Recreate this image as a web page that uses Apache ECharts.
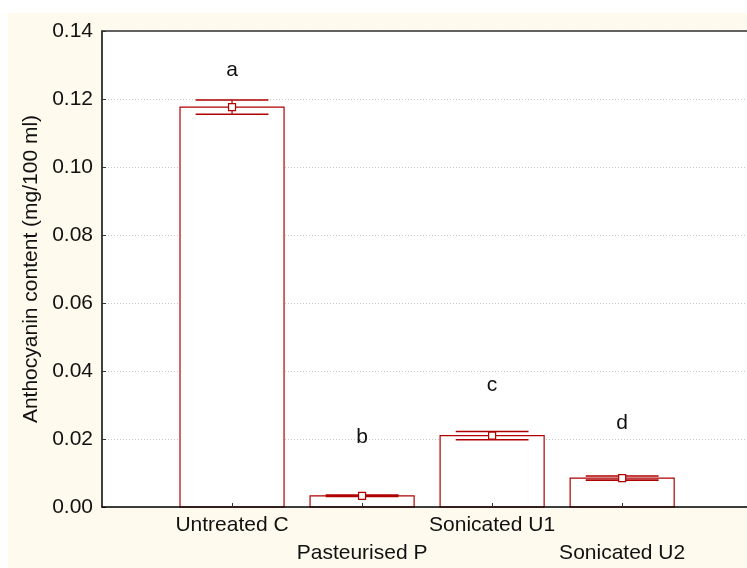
<!DOCTYPE html>
<html>
<head>
<meta charset="utf-8">
<script src="https://cdn.jsdelivr.net/npm/echarts@6/dist/echarts.min.js"></script>
<style>html,body{margin:0;padding:0;background:#fff}#c{width:747px;height:568px}</style>
</head>
<body>
<div id="c"></div>
<script>
const categories = ['Untreated C', 'Pasteurised P', 'Sonicated U1', 'Sonicated U2'];
const means = [0.1176, 0.0033, 0.0210, 0.0085];
const errors = [0.0021, 0.0002, 0.0012, 0.0006];
const letters = ['a', 'b', 'c', 'd'];
const letterY = [0.1286, 0.0206, 0.0359, 0.0247];
const yTicks = [0, 0.02, 0.04, 0.06, 0.08, 0.10, 0.12, 0.14];

const RED = '#b00000';
const FONT = 'Liberation Sans, Arial, sans-serif';
const FS = 21;

const barData = categories.map((c, i) => [i + 1, means[i], errors[i]]);
const letterData = categories.map((c, i) => ({ value: [i + 1, letterY[i]], label: { formatter: letters[i] } }));

const chart = echarts.init(document.getElementById('c'), null, { renderer: 'canvas' });
chart.setOption({
  animation: false,
  backgroundColor: '#fffaee',
  graphic: [
    { type: 'rect', shape: { x: 0, y: 0, width: 747, height: 13 }, style: { fill: '#ffffff' }, silent: true },
    { type: 'rect', shape: { x: 0, y: 0, width: 8, height: 568 }, style: { fill: '#ffffff' }, silent: true }
  ],
  grid: { left: 102, right: 0, top: 31, bottom: 61, show: true, backgroundColor: '#ffffff', borderWidth: 0, containLabel: false, outerBoundsMode: 'none' },
  xAxis: [{
    type: 'value', min: 0, max: 4.96, interval: 1, z: 5,
    axisLine: { show: true, lineStyle: { color: '#000', width: 1.5 } },
    axisTick: { show: true, inside: true, length: 4, lineStyle: { color: '#333' } },
    splitLine: { show: false },
    axisLabel: {
      show: true, margin: 4, verticalAlign: 'top', lineHeight: 28,
      fontFamily: FONT, fontSize: FS, color: '#111',
      formatter: v => {
        const i = Math.round(v) - 1;
        if (i < 0 || i >= categories.length || Math.abs(v - Math.round(v)) > 1e-6) return '';
        return i % 2 === 0 ? categories[i] : '\n' + categories[i];
      },
      showMinLabel: false, showMaxLabel: false
    }
  }, {
    type: 'value', position: 'top', min: 0, max: 4.96, z: 5,
    axisLine: { show: true, lineStyle: { color: '#333', width: 1.5 } },
    axisTick: { show: false }, axisLabel: { show: false }, splitLine: { show: false }
  }],
  yAxis: {
    type: 'value', min: 0, max: 0.14, interval: 0.02, z: 1,
    name: 'Anthocyanin content (mg/100 ml)', nameLocation: 'middle', nameGap: 60,
    nameTextStyle: { fontFamily: FONT, fontSize: FS, color: '#111' },
    axisLine: { show: true, lineStyle: { color: '#000', width: 1.5 } },
    axisTick: { show: true, inside: true, length: 4, lineStyle: { color: '#333' } },
    axisLabel: { margin: 9, fontFamily: FONT, fontSize: FS, color: '#111', formatter: v => v.toFixed(2) },
    splitLine: { show: true, lineStyle: { color: '#c8c8c8', type: [1, 2], width: 1 } }
  },
  series: [
    {
      type: 'custom',
      z: 3,
      data: barData,
      renderItem: (params, api) => {
        const x = api.value(0), m = api.value(1), e = api.value(2);
        const pL = api.coord([x - 0.4, 0]);
        const pR = api.coord([x + 0.4, m]);
        const c = api.coord([x, m]);
        const up = api.coord([x, m + e]);
        const lo = api.coord([x, m - e]);
        const half = api.size([0.28, 0])[0];
        const s = 3.5;
        const st = { stroke: RED, lineWidth: 1.2, fill: null };
        return {
          type: 'group',
          children: [
            { type: 'rect', shape: { x: pL[0], y: pR[1], width: pR[0] - pL[0], height: pL[1] - pR[1] }, style: { fill: '#fff', stroke: RED, lineWidth: 1.2 } },
            { type: 'line', shape: { x1: c[0], y1: up[1], x2: c[0], y2: lo[1] }, style: st },
            { type: 'line', shape: { x1: c[0] - half, y1: up[1], x2: c[0] + half, y2: up[1] }, style: { stroke: RED, lineWidth: 1.6 } },
            { type: 'line', shape: { x1: c[0] - half, y1: lo[1], x2: c[0] + half, y2: lo[1] }, style: { stroke: RED, lineWidth: 1.6 } },
            { type: 'rect', shape: { x: c[0] - s, y: c[1] - s, width: 2 * s, height: 2 * s }, style: { fill: '#fff', stroke: RED, lineWidth: 1.2 } }
          ]
        };
      }
    },
    {
      type: 'custom',
      z: 4,
      data: letterData,
      renderItem: (params, api) => {
        const p = api.coord([api.value(0), api.value(1)]);
        return {
          type: 'text',
          x: p[0], y: p[1],
          style: { text: letters[params.dataIndex], fill: '#111', font: FS + 'px ' + FONT, align: 'center', verticalAlign: 'middle' }
        };
      }
    }
  ]
});
</script>
</body>
</html>
